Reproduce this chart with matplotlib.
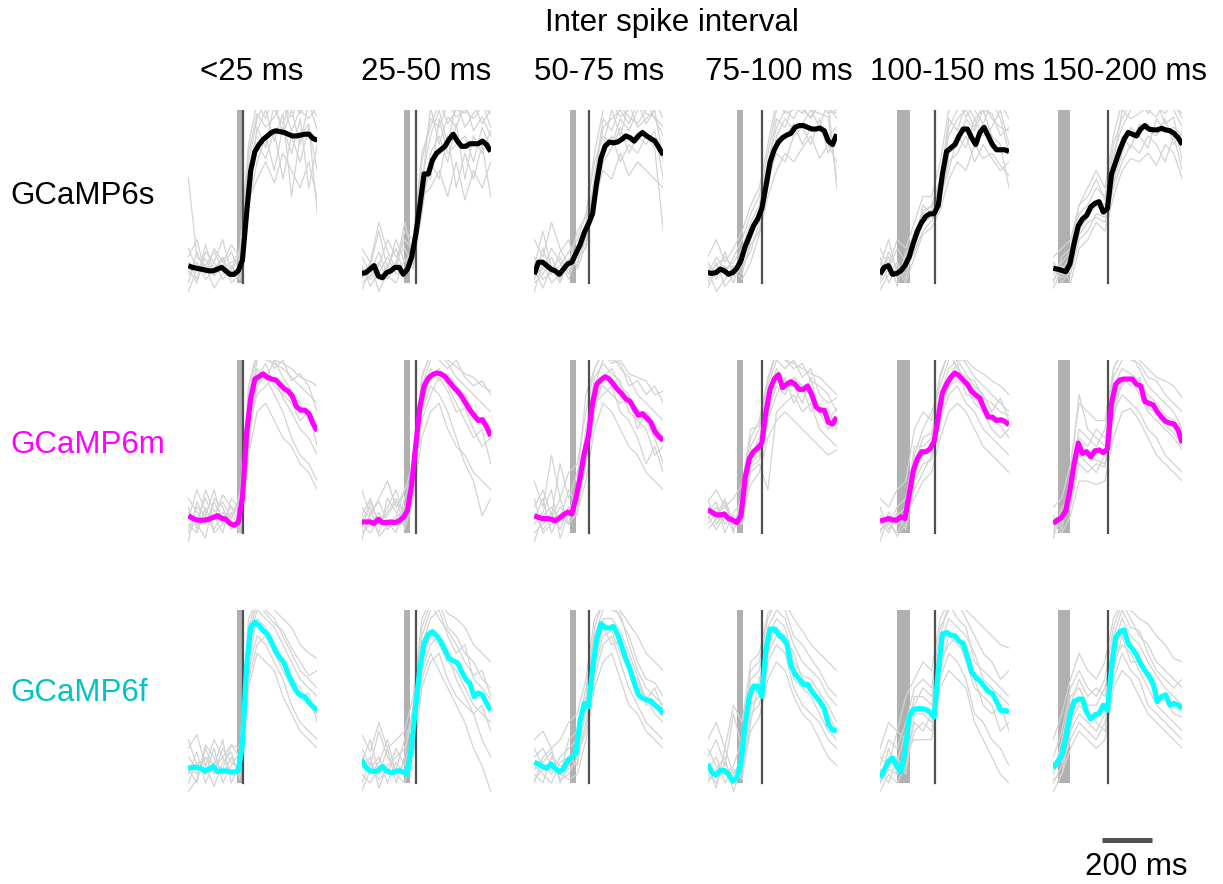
import numpy as np
import matplotlib
matplotlib.use("Agg")
import matplotlib.pyplot as plt

plt.rcParams['font.family'] = ['Liberation Sans', 'DejaVu Sans']

# ---------------- data ----------------
title = 'Inter spike interval'
isi_labels = ['<25 ms', '25-50 ms', '50-75 ms', '75-100 ms', '100-150 ms', '150-200 ms']
isi_lo = [0, 25, 50, 75, 100, 150]      # ms before 2nd spike
isi_hi = [25, 50, 75, 100, 150, 200]
indicators = ['GCaMP6s', 'GCaMP6m', 'GCaMP6f']
mean_colors = ['#000000', '#ff00ff', '#00ffff']
label_colors = ['#000000', '#ff00ff', '#00c4c4']

# time (ms, relative to second spike) of mean samples and single-trial samples
t_mean = np.linspace(-218, 298, 32)
t_trial = np.linspace(-218, 298, 16)

# mean normalized responses (% of peak scale), one list per ISI bin
mean_6s = [
    [10, 9, 8.5, 8, 7.5, 7, 7, 8, 9, 7, 5, 5, 7, 13, 40, 65, 76, 80, 83, 85, 87, 88, 87.5, 87, 86, 85, 85, 85.5, 86, 86, 83.5, 82.5],
    [5.5, 6, 8, 10, 4, 3, 6, 7, 9, 9, 5, 8, 15, 28, 45, 63, 63, 71, 75, 77, 79, 83, 86, 82, 79, 79, 80.5, 80.5, 80.5, 82, 80, 76],
    [5, 12, 12, 10, 8, 7, 5, 8, 11, 12, 17, 22, 29, 34, 40, 58, 72, 79, 81.5, 81, 81.5, 83, 85, 84, 82, 85, 87, 85, 83.5, 82, 78, 74],
    [6, 5.5, 6, 8, 7, 5, 6, 8.5, 13, 21, 27, 33, 37, 43, 56, 70, 77, 81.5, 84, 85.5, 86.5, 90, 91, 91, 90, 89, 89, 89.5, 88, 82, 80, 86],
    [5, 9, 10, 5, 5.5, 7, 10, 15, 23, 30, 35, 38.5, 40, 40, 45, 63, 76, 78, 80, 85, 89, 89, 84, 80, 87, 90, 85, 80, 77, 77, 77, 76],
    [8.5, 8, 7.3, 6.5, 11, 23, 33, 37, 39, 44, 46, 47, 41, 43, 63, 70, 77, 83, 87, 86, 85, 89, 91, 89, 88.5, 88.5, 89.4, 88.5, 88, 86.5, 84, 80],
]
mean_6m = [
    [10, 8.5, 7.5, 7.3, 7.5, 8, 9, 10, 8.5, 8, 5.5, 4.5, 6, 20, 57, 78, 89, 90.5, 92, 90, 89, 88.5, 86, 83.5, 82, 79, 73, 71, 71, 69, 63, 59],
    [6.4, 6.4, 6.4, 5.5, 8, 6, 6, 6.4, 6, 7, 9, 13, 28, 51, 73, 85, 89.5, 91.5, 92.5, 92, 90.5, 87.5, 84.5, 82, 79, 75, 71, 68, 65, 65.5, 61.5, 56],
    [10, 9, 8.3, 8.3, 8, 7, 8.5, 10.5, 12, 11, 20, 32, 46, 56, 75, 86, 88.5, 90.3, 89, 86, 83, 80.5, 77.5, 76, 72, 68, 69, 66.5, 64, 58.5, 55.5, 53.5],
    [13.5, 12, 10.5, 10.5, 11, 8.3, 7.5, 6, 10, 32, 43, 47, 49, 52, 70, 83, 89, 91.5, 84, 86, 87.5, 86, 83, 83, 85, 80, 73, 71, 71, 64, 63, 67],
    [7, 7.5, 8.3, 7.5, 7.5, 9.3, 8.3, 22, 36, 43, 47, 47, 48.5, 53, 67, 81, 86, 90, 92.5, 91, 88.4, 86, 82, 79.7, 78, 72, 67, 67, 65, 65.5, 64.5, 62.5],
    [5.5, 7.5, 9, 13, 25, 40, 52, 46, 47, 44, 47.5, 48, 46.5, 48.5, 75, 86, 88.5, 89, 89, 89, 86, 85, 76, 75, 74, 70, 67, 64.5, 63.5, 63, 59.5, 52],
]
mean_6f = [
    [8.3, 9, 9, 8.5, 7, 8, 9.5, 6.5, 7, 7, 6.4, 6.4, 7, 22, 67, 90, 93, 91, 88, 86, 81.7, 76, 72.5, 69.5, 63, 58, 53, 50.5, 49.8, 46.5, 44, 42],
    [13.5, 9, 7, 6.5, 7.3, 9.5, 7, 6, 6.4, 7.2, 6.4, 5, 22, 45, 67, 81, 86, 87.5, 85, 82, 77, 72, 70.5, 69.5, 64.5, 60, 57.5, 50, 52, 51, 46, 42],
    [12, 11, 9.5, 8.5, 11, 8.3, 6.5, 8, 13, 15, 17, 36, 46, 44, 66, 83, 92, 90, 89.5, 90.5, 86, 79, 72, 65.5, 58, 51, 49, 48, 47.5, 45, 43, 40],
    [11, 6, 4.5, 7.3, 7.3, 5, 1, 3, 12, 34, 50, 56, 56, 50, 77, 89, 89, 86, 84, 80.5, 68, 63, 60, 57, 57, 53, 50, 47, 43, 34, 30.5, 30.5],
    [3, 7.5, 12, 14.5, 10, 6.5, 18, 38, 42.5, 43, 43, 42.5, 41, 38, 65, 86, 87, 85.5, 85, 82, 80.7, 73, 64.3, 61, 59, 56, 53, 51.7, 47, 42, 42, 41],
    [8.5, 12, 16, 26, 39, 47, 48.5, 48.5, 41, 37, 39.5, 40, 45, 42, 67, 84, 87.5, 88.5, 80.7, 77.5, 74, 69, 65, 62, 57.5, 47, 50, 51, 45, 46, 45, 43],
]

# single-trial responses (subset of trials), per ISI bin
trials_6s = [
    [[61, 15, 10, 18, 8, 12, 14, 70, 95, 105, 100, 92, 105, 98, 104, 96],
     [5, 12, 2, 8, 15, 3, 10, 55, 80, 72, 88, 60, 85, 70, 90, 65],
     [20, 8, 14, 4, 10, 18, 6, 45, 70, 85, 65, 90, 75, 95, 55, 80],
     [0, 18, 6, 12, 2, 8, 20, 80, 104, 95, 108, 102, 96, 106, 100, 105],
     [12, 2, 22, 6, 14, 0, 5, 62, 88, 100, 82, 98, 50, 85, 92, 40],
     [-5, 8, 10, -3, 5, 10, 2, 50, 90, 78, 104, 86, 100, 80, 105, 88],
     [15, 25, 5, 20, 12, 22, 15, 75, 98, 90, 96, 104, 88, 100, 95, 102],
     [8, 0, 18, 12, 25, 6, 18, 48, 60, 70, 58, 75, 65, 55, 70, 48]],
    [[5, 10, 30, 8, 25, 12, 20, 60, 85, 100, 80, 105, 90, 98, 104, 90],
     [0, 4, 12, 2, 10, 35, 15, 45, 70, 60, 85, 55, 75, 60, 80, 50],
     [10, -2, 6, 15, 5, 8, 22, 70, 95, 90, 104, 96, 100, 95, 102, 98],
     [-4, 8, 2, 10, 20, 4, 12, 40, 75, 85, 70, 92, 60, 85, 75, 88],
     [15, 6, 18, 4, 0, 14, 8, 55, 102, 80, 96, 90, 105, 88, 96, 85],
     [2, 12, -5, 6, 12, 25, 18, 65, 60, 95, 75, 80, 85, 70, 90, 78],
     [20, 12, 35, 18, 8, 30, 25, 75, 90, 105, 92, 100, 98, 104, 92, 100],
     [8, 2, 10, 25, 15, 20, 10, 50, 55, 65, 50, 70, 48, 65, 55, 70]],
    [[10, 30, 8, 15, 5, 22, 35, 60, 90, 95, 100, 92, 104, 98, 96, 90],
     [0, 5, 15, 2, 12, 10, 28, 55, 75, 85, 70, 80, 75, 85, 78, 30],
     [15, 2, 6, 10, 18, 25, 40, 70, 85, 80, 95, 88, 100, 105, 95, 85],
     [-5, 12, 0, 5, 8, 15, 20, 50, 80, 100, 85, 104, 90, 95, 100, 70],
     [5, 8, 20, 12, 2, 18, 30, 45, 70, 78, 90, 75, 85, 80, 88, 60],
     [8, -3, 10, 0, 14, 12, 25, 62, 95, 88, 102, 96, 92, 100, 105, 95],
     [25, 15, 35, 20, 10, 30, 38, 75, 100, 104, 96, 100, 105, 92, 100, 102],
     [2, 20, 5, 18, 25, 8, 22, 48, 65, 60, 75, 62, 70, 65, 60, 55]],
    [[5, 15, 8, 12, 20, 35, 45, 70, 90, 100, 95, 105, 100, 98, 96, 60],
     [10, 2, 18, 5, 8, 22, 30, 55, 80, 85, 92, 80, 90, 88, 85, 90],
     [-3, 8, 5, 15, 25, 40, 50, 75, 100, 105, 102, 98, 104, 100, 102, 95],
     [0, 12, -2, 4, 10, 18, 35, 60, 75, 70, 85, 90, 80, 95, 75, 85],
     [12, 5, 10, 0, 15, 30, 42, 68, 95, 90, 104, 100, 96, 105, 100, 98],
     [8, -5, 2, 10, 5, 25, 38, 58, 85, 95, 88, 92, 100, 90, 105, 55],
     [15, 25, 12, 20, 30, 45, 55, 80, 105, 98, 100, 102, 95, 104, 98, 100],
     [5, 10, 15, 8, 2, 12, 28, 50, 65, 75, 70, 78, 85, 72, 80, 70]],
    [[5, 12, 3, 15, 30, 40, 45, 60, 85, 95, 100, 90, 105, 95, 90, 88],
     [15, 0, 10, 5, 20, 35, 38, 48, 70, 75, 85, 70, 80, 72, 65, 70],
     [0, 8, 20, 12, 25, 42, 44, 55, 90, 100, 104, 95, 100, 98, 85, 90],
     [10, 25, 5, 8, 18, 30, 36, 45, 75, 80, 95, 88, 100, 85, 80, 55],
     [-4, 5, 12, 2, 28, 38, 42, 58, 95, 88, 105, 100, 92, 105, 95, 75],
     [8, 15, -2, 18, 22, 45, 40, 50, 65, 85, 78, 95, 85, 90, 100, 80],
     [20, 10, 25, 20, 35, 50, 50, 70, 100, 105, 96, 104, 100, 102, 104, 95],
     [2, 18, 8, 0, 15, 28, 32, 42, 60, 70, 65, 80, 72, 75, 68, 62]],
    [[5, 12, 18, 40, 45, 55, 50, 75, 90, 100, 104, 100, 96, 105, 100, 90],
     [10, 0, 8, 28, 35, 38, 35, 55, 70, 80, 75, 85, 80, 70, 85, 65],
     [0, 15, 20, 45, 50, 60, 48, 80, 95, 104, 100, 105, 102, 98, 104, 95],
     [12, 5, 5, 25, 30, 40, 38, 60, 85, 78, 92, 88, 85, 95, 80, 88],
     [-3, 8, 15, 35, 42, 48, 45, 70, 100, 95, 98, 102, 105, 92, 96, 70],
     [8, 3, 10, 30, 38, 45, 40, 58, 75, 90, 85, 78, 95, 88, 90, 85],
     [15, 20, 25, 45, 55, 65, 55, 85, 105, 100, 105, 98, 104, 100, 102, 98],
     [2, 10, 0, 20, 25, 35, 30, 50, 65, 72, 70, 75, 68, 80, 75, 60]],
]
trials_6m = [
    [[20, 12, 5, 18, 8, 15, 10, 80, 104, 100, 98, 95, 90, 85, 80, 75],
     [5, 0, 15, 2, 12, 6, 3, 55, 85, 90, 80, 70, 55, 45, 40, 30],
     [-5, 18, 8, 10, 0, 20, 14, 70, 100, 105, 95, 100, 88, 92, 85, 70],
     [12, 5, -3, 20, 15, 2, 8, 60, 80, 85, 90, 78, 70, 60, 55, 45],
     [8, 25, 12, 0, 5, 10, 18, 75, 95, 88, 100, 90, 82, 75, 65, 60],
     [0, 8, 20, 8, 22, 15, 5, 50, 90, 98, 85, 80, 75, 65, 70, 50],
     [15, 2, 25, 12, 18, 8, 22, 85, 105, 104, 100, 98, 95, 90, 88, 85],
     [2, 15, 10, 25, 5, 12, 0, 45, 70, 75, 65, 55, 50, 40, 35, 25]],
    [[10, 20, 5, 15, 25, 8, 30, 85, 100, 104, 98, 90, 85, 80, 75, 70],
     [0, 5, 12, 2, 8, 15, 25, 70, 85, 80, 70, 55, 40, 30, 10, 20],
     [15, 8, 0, 20, 12, 5, 45, 90, 105, 100, 95, 100, 90, 85, 88, 80],
     [-4, 12, 18, 6, 0, 20, 35, 75, 90, 95, 85, 75, 65, 55, 60, 40],
     [5, 0, 8, 10, 18, 12, 40, 80, 95, 88, 92, 85, 80, 70, 65, 60],
     [8, 15, -2, 4, 10, 25, 32, 65, 80, 90, 82, 70, 72, 60, 50, 55],
     [25, 10, 20, 30, 15, 25, 40, 90, 104, 105, 100, 96, 92, 90, 85, 82],
     [2, 18, 5, 12, 20, 2, 20, 55, 70, 75, 60, 50, 45, 35, 30, 25]],
    [[15, 25, 10, 40, 20, 35, 55, 85, 100, 104, 95, 90, 80, 75, 70, 65],
     [0, 5, 12, 2, 15, 10, 45, 75, 80, 85, 70, 65, 55, 40, 50, 35],
     [8, 20, 0, 10, 5, 30, 80, 95, 105, 100, 98, 85, 88, 80, 85, 75],
     [-5, 10, 15, 8, 25, 15, 40, 70, 90, 95, 85, 80, 70, 65, 55, 40],
     [20, 0, 5, 15, 10, 20, 60, 90, 98, 92, 88, 70, 65, 60, 45, 50],
     [5, 12, 25, -3, 12, 25, 50, 78, 85, 80, 75, 78, 60, 70, 62, 55],
     [30, 15, 45, 20, 35, 40, 70, 95, 104, 98, 100, 92, 90, 88, 80, 82],
     [10, 2, 8, 20, 5, 12, 30, 60, 75, 70, 60, 50, 45, 35, 30, 25]],
    [[15, 10, 20, 5, 15, 50, 60, 85, 100, 95, 100, 90, 95, 80, 75, 78],
     [8, 15, 5, 10, 8, 35, 40, 25, 70, 75, 80, 70, 75, 60, 55, 50],
     [20, 5, 12, 0, 25, 55, 65, 90, 105, 100, 95, 98, 88, 85, 80, 70],
     [5, 12, 15, 8, 5, 40, 45, 70, 85, 80, 90, 85, 80, 70, 60, 65],
     [12, 18, 0, 12, 18, 45, 55, 80, 95, 88, 85, 75, 90, 70, 72, 60],
     [10, 2, 10, 5, 12, 38, 42, 65, 80, 90, 75, 85, 70, 75, 65, 72],
     [18, 25, 15, 20, 28, 60, 62, 88, 104, 100, 98, 95, 92, 90, 85, 80],
     [2, 8, 18, 2, 10, 28, 35, 55, 65, 70, 65, 60, 55, 50, 45, 48]],
    [[10, 5, 15, 20, 45, 60, 70, 85, 100, 105, 98, 90, 85, 80, 75, 70],
     [0, 12, 5, 8, 30, 40, 42, 65, 80, 85, 75, 70, 60, 55, 50, 45],
     [15, 2, 10, 15, 40, 55, 58, 80, 95, 100, 92, 85, 80, 70, 78, 65],
     [5, 8, -2, 5, 25, 35, 45, 70, 85, 88, 85, 75, 70, 60, 55, 60],
     [-5, 10, 8, 12, 50, 50, 55, 90, 105, 95, 90, 88, 78, 75, 70, 68],
     [8, 0, 12, 2, 35, 45, 48, 75, 90, 98, 80, 78, 72, 65, 62, 55],
     [20, 15, 25, 30, 60, 70, 65, 92, 104, 100, 100, 95, 92, 88, 85, 80],
     [2, 5, 0, 10, 20, 30, 35, 55, 70, 75, 70, 60, 50, 45, 40, 35]],
    [[5, 10, 30, 60, 55, 50, 60, 90, 100, 104, 95, 85, 80, 75, 70, 60],
     [0, 8, 15, 40, 35, 40, 38, 70, 80, 75, 70, 60, 55, 45, 40, 35],
     [10, 2, 35, 80, 60, 55, 50, 95, 105, 100, 98, 90, 88, 80, 75, 70],
     [-3, 15, 20, 45, 40, 35, 45, 75, 85, 90, 80, 70, 65, 60, 55, 48],
     [8, 5, 25, 55, 50, 60, 55, 85, 95, 92, 88, 80, 75, 68, 65, 55],
     [2, 12, 18, 50, 45, 42, 40, 65, 90, 85, 90, 72, 70, 62, 58, 50],
     [15, 20, 40, 75, 70, 65, 65, 95, 104, 105, 100, 95, 90, 88, 85, 78],
     [5, 0, 10, 30, 30, 28, 30, 55, 70, 72, 65, 55, 45, 40, 35, 30]],
]
trials_6f = [
    [[25, 10, 15, 5, 20, 12, 8, 85, 104, 100, 95, 85, 75, 65, 60, 55],
     [5, 18, 0, 12, 8, 22, 15, 65, 85, 80, 70, 60, 45, 35, 30, 25],
     [-5, 2, 20, 8, 15, 5, 10, 80, 100, 95, 90, 80, 70, 60, 55, 50],
     [15, 8, 5, 20, 0, 10, 18, 70, 95, 90, 78, 70, 60, 55, 45, 40],
     [0, 12, 10, -2, 12, 18, 2, 60, 80, 85, 75, 65, 55, 50, 52, 35],
     [10, 5, 15, 10, 25, 0, 12, 90, 105, 98, 92, 88, 78, 70, 62, 65],
     [20, 28, 10, 25, 15, 22, 20, 95, 105, 104, 100, 95, 90, 80, 75, 72],
     [8, 0, 22, 15, 5, 15, 5, 55, 75, 70, 65, 50, 40, 30, 25, 20]],
    [[20, 10, 30, 15, 8, 25, 40, 85, 100, 105, 90, 85, 75, 70, 60, 55],
     [5, 0, 10, 5, 20, 10, 30, 60, 75, 65, 55, 45, 35, 20, 10, -5],
     [12, 25, 5, 20, 0, 15, 45, 90, 104, 95, 88, 80, 70, 62, 65, 50],
     [-5, 8, 15, 0, 12, 5, 25, 70, 85, 80, 70, 65, 55, 45, 40, 35],
     [8, 15, -3, 10, 15, 20, 38, 80, 95, 100, 85, 75, 80, 60, 55, 48],
     [15, 5, 12, 25, 5, 0, 20, 65, 80, 85, 75, 60, 50, 40, 45, 30],
     [28, 18, 35, 20, 25, 30, 50, 95, 105, 104, 98, 95, 90, 80, 75, 70],
     [0, 12, 2, 8, 5, 12, 15, 55, 70, 75, 60, 50, 45, 40, 25, 15]],
    [[15, 20, 10, 5, 25, 30, 55, 85, 100, 105, 95, 85, 70, 60, 58, 50],
     [5, 0, 15, 10, 8, 12, 35, 60, 80, 85, 70, 55, 45, 35, 30, 25],
     [20, 10, 5, 15, 20, 25, 50, 90, 105, 100, 98, 80, 65, 55, 50, 45],
     [0, 15, 20, 0, 10, 20, 40, 70, 90, 80, 82, 70, 55, 50, 40, 35],
     [10, 5, 0, 12, 15, 10, 45, 80, 95, 95, 88, 75, 62, 48, 55, 42],
     [8, 12, 18, 2, 5, 15, 30, 65, 85, 88, 75, 65, 60, 45, 45, 38],
     [25, 30, 20, 25, 35, 40, 60, 95, 104, 105, 100, 92, 85, 75, 70, 65],
     [2, 8, 10, 5, 2, 5, 25, 55, 70, 75, 60, 45, 40, 30, 25, 20]],
    [[15, 25, 10, 40, 20, 60, 65, 90, 100, 95, 80, 70, 65, 60, 50, 45],
     [5, 0, 12, 2, 5, 40, 45, 70, 80, 75, 55, 45, 40, 35, 25, 20],
     [20, 10, 5, 10, 25, 65, 70, 95, 105, 100, 85, 80, 72, 65, 55, 50],
     [0, 8, 15, -5, 10, 45, 50, 75, 85, 80, 60, 55, 50, 40, 30, 25],
     [10, -3, 20, 5, 15, 55, 55, 85, 95, 90, 70, 62, 60, 52, 45, 35],
     [8, 15, 0, 8, 2, 35, 60, 80, 90, 85, 75, 60, 55, 45, 40, 30],
     [25, 35, 20, 45, 35, 70, 75, 98, 105, 104, 95, 88, 80, 75, 70, 65],
     [2, 5, 8, 0, 5, 30, 38, 60, 70, 65, 50, 40, 35, 25, 15, 10]],
    [[10, 25, 20, 35, 55, 60, 55, 90, 100, 105, 95, 85, 75, 70, 60, 65],
     [-5, 5, 0, 10, 30, 35, 30, 60, 75, 70, 60, 40, 35, 25, 20, 10],
     [15, 10, 30, 25, 50, 50, 45, 85, 104, 95, 90, 70, 65, 60, 55, 50],
     [0, 20, 5, 15, 35, 30, 40, 70, 80, 85, 70, 55, 50, 45, 30, 35],
     [5, 15, 12, 30, 45, 55, 50, 80, 95, 90, 85, 75, 60, 55, 50, 45],
     [8, 0, 15, 5, 40, 40, 35, 65, 85, 80, 75, 60, 45, 40, 45, 30],
     [20, 35, 30, 50, 60, 70, 65, 95, 105, 104, 100, 95, 90, 85, 80, 78],
     [0, 8, 5, 20, 25, 25, 25, 55, 65, 60, 55, 35, 25, 15, 5, 0]],
    [[15, 30, 55, 65, 55, 50, 60, 90, 104, 95, 85, 80, 70, 65, 60, 55],
     [0, 10, 25, 35, 30, 25, 35, 60, 75, 65, 60, 45, 40, 35, 30, 25],
     [10, 20, 45, 60, 50, 55, 50, 85, 100, 90, 88, 75, 65, 60, 55, 60],
     [-5, 5, 30, 40, 35, 30, 40, 70, 80, 75, 65, 55, 45, 40, 35, 30],
     [5, 25, 50, 55, 45, 45, 55, 80, 95, 85, 80, 70, 62, 55, 50, 45],
     [12, 12, 35, 45, 40, 35, 30, 65, 85, 70, 70, 60, 50, 48, 40, 38],
     [25, 40, 60, 75, 65, 60, 70, 95, 105, 100, 95, 92, 85, 80, 72, 70],
     [2, 5, 20, 30, 25, 20, 25, 55, 65, 60, 50, 40, 35, 30, 25, 20]],
]

scalebar_ms = 200

# ---------------- layout ----------------
W, H = 1223, 884
fig = plt.figure(figsize=(W / 100, H / 100), dpi=100)

col_left = [188.3, 361.7, 534.3, 707.7, 880.0, 1053.3]
ax_w = 129.0
row_top = [110.0, 360.0, 610.0]
ax_h = 188.0

means = [mean_6s, mean_6m, mean_6f]
trials = [trials_6s, trials_6m, trials_6f]

axes = {}
for r in range(3):
    for c in range(6):
        ax = fig.add_axes([col_left[c] / W, 1 - (row_top[r] + ax_h) / H, ax_w / W, ax_h / H])
        ax.set_xlim(-218, 298)
        ax.set_ylim(-8.7, 100)
        ax.axis('off')
        ax.fill_between([-isi_hi[c], -isi_lo[c]], 0, 100, color='#b0b0b0', lw=0, zorder=1)
        for tr in trials[r][c]:
            ax.plot(t_trial, tr, color='#d3d3d3', lw=0.9, zorder=2)
        ax.plot([0, 0], [0, 100], color='#505050', lw=1.6, zorder=3)
        ax.plot(t_mean, means[r][c], color=mean_colors[r], lw=3.7, zorder=4,
                solid_capstyle='butt', solid_joinstyle='round')
        axes[(r, c)] = ax

FS = 22.5
fig.text(672 / W, 1 - 30.5 / H, title, ha='center', va='baseline', fontsize=FS)
col_centers = [252, 426, 599, 779, 952, 1125]
for c in range(6):
    fig.text(col_centers[c] / W, 1 - 80 / H, isi_labels[c], ha='center', va='baseline', fontsize=FS)
row_base = [204, 453, 701]
for r in range(3):
    fig.text(10.7 / W, 1 - row_base[r] / H, indicators[r], ha='left', va='baseline',
             fontsize=FS, color=label_colors[r])

# scale bar in the coordinates of the last panel
axl = axes[(2, 5)]
x0 = -23
axl.plot([x0, x0 + scalebar_ms], [-33, -33], color='#505050', lw=3.6,
         solid_capstyle='butt', clip_on=False)
axl.text(113, -53, f'{scalebar_ms} ms', ha='center', va='baseline', fontsize=FS, clip_on=False)

fig.savefig('out.png', dpi=100)
